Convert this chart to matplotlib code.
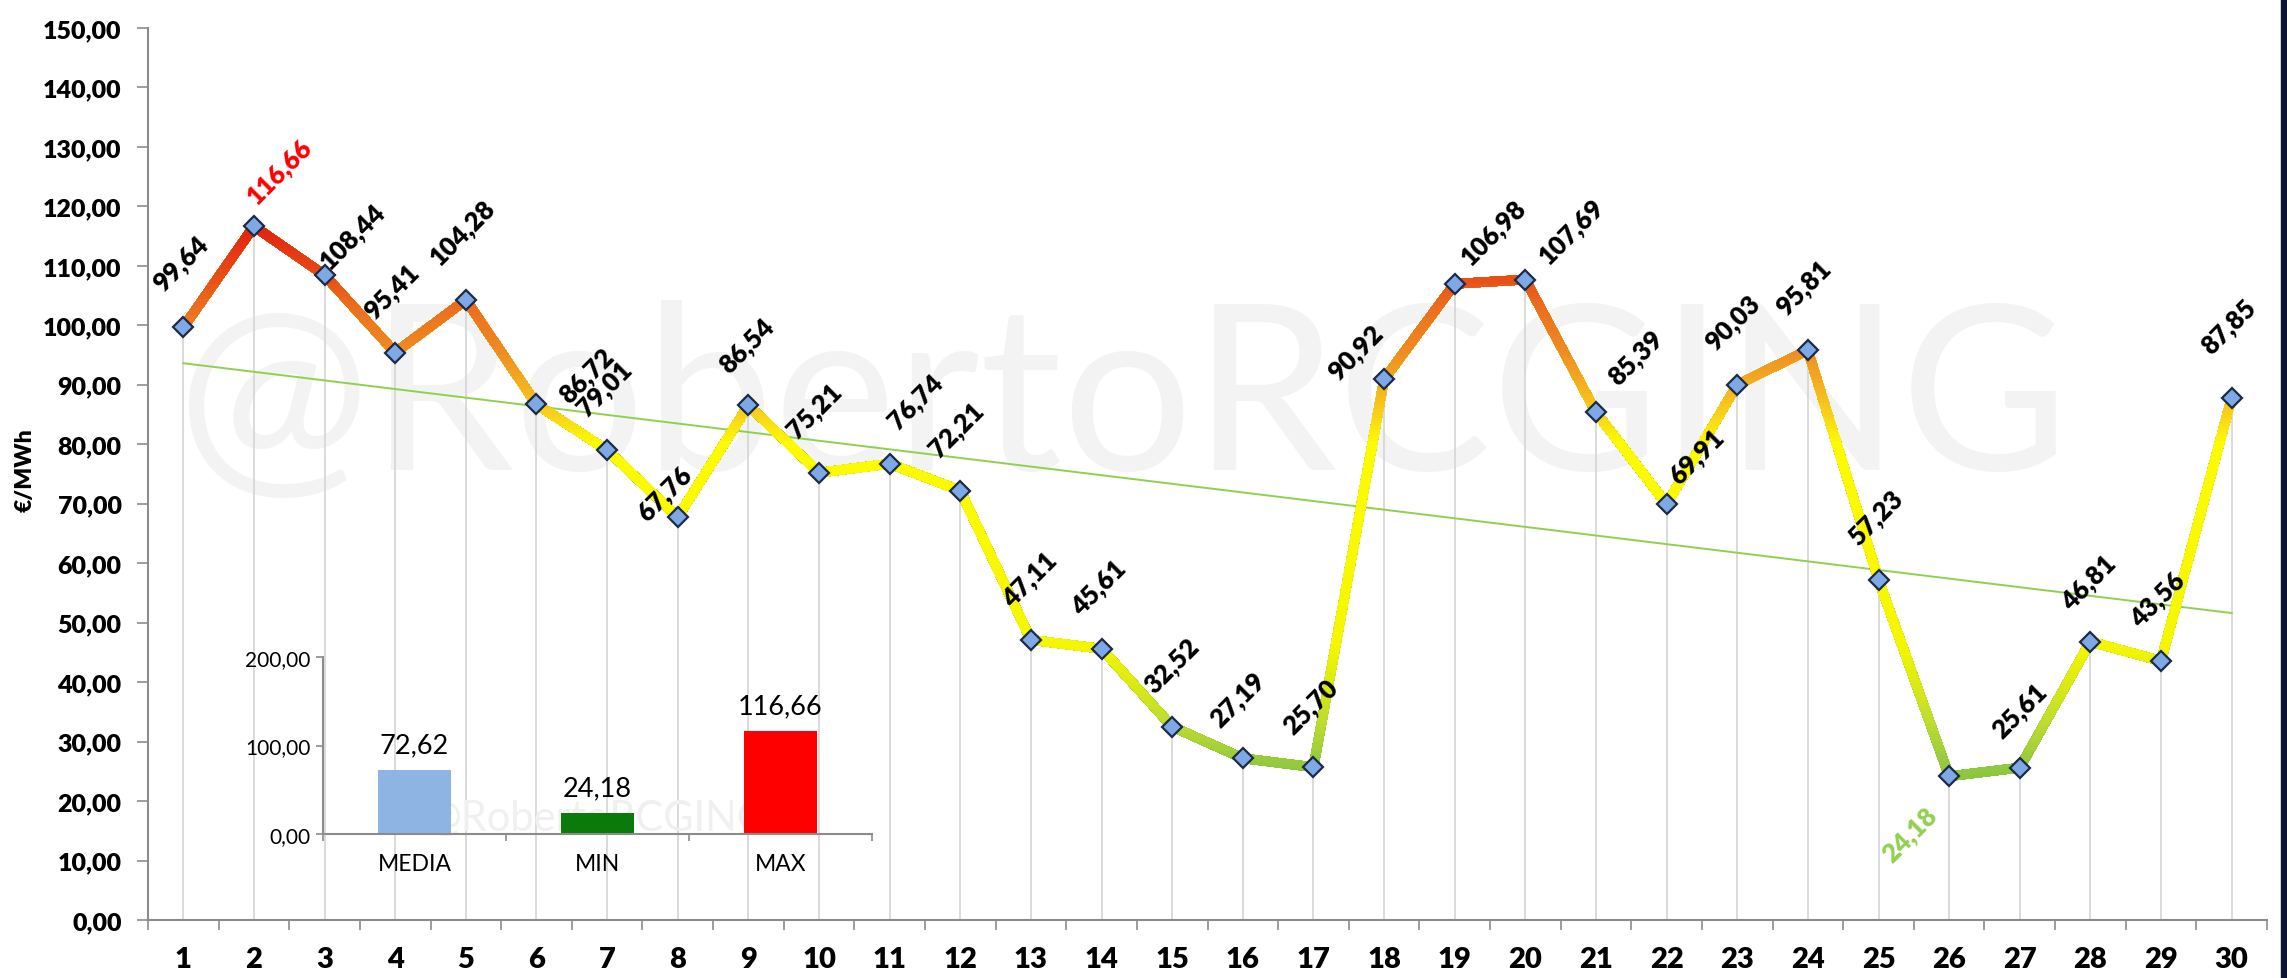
import numpy as np
import matplotlib
matplotlib.use("Agg")
import matplotlib.pyplot as plt
from matplotlib.colors import LinearSegmentedColormap
from matplotlib.patches import Rectangle

# daily price, €/MWh
days = list(range(1, 31))
prices = [99.64, 116.66, 108.44, 95.41, 104.28, 86.72, 79.01, 67.76, 86.54, 75.21,
          76.74, 72.21, 47.11, 45.61, 32.52, 27.19, 25.70, 90.92, 106.98, 107.69,
          85.39, 69.91, 90.03, 95.81, 57.23, 24.18, 25.61, 46.81, 43.56, 87.85]

summary_names = ["MEDIA", "MIN", "MAX"]
summary_values = [72.62, 24.18, 116.66]

y_ticks = list(range(0, 151, 10))
inset_ticks = [0, 100, 200]

# gradient of the line colour by price level
grad_values = [24, 27, 33, 40, 46, 80, 85, 90, 96, 104, 108, 117]
grad_colors = ["#8CC63F", "#98CC3C", "#BEDC30", "#DDEB10", "#F4F700", "#FDFB00",
               "#F8D21A", "#F4B021", "#EF8A22", "#EB6A1E", "#E84F18", "#E3200E"]

# label centre offsets from each point, in pixels (dx, dy up)
label_offsets = [(-2, 64), (26, 55), (28, 39), (-3, 61), (-3, 68), (50, 29), (-2, 62),
                 (-13, 24), (-1, 60), (-4, 62), (26, 62), (-4, 61), (-1, 61), (-3, 62),
                 (0, 61), (-5, 59), (-2, 61), (-28, 27), (39, 52), (46, 49), (40, 55),
                 (30, 48), (-4, 62), (-4, 63), (-3, 62), (-39, -58), (0, 57), (-2, 59),
                 (-3, 62), (-3, 71)]

FONT = ["Lato", "DejaVu Sans"]
W, H = 2287, 979


def fmt(v):
    return f"{v:.2f}".replace(".", ",")


fig = plt.figure(figsize=(W / 100, H / 100), dpi=100)
fig.patch.set_facecolor("white")
fig.patches.append(Rectangle((2281 / W, 0), 1 - 2281 / W, 1, transform=fig.transFigure,
                             color="#0D1530", zorder=0))

ax = fig.add_axes([148 / W, 58 / H, 2119 / W, 892 / H])
ax.patch.set_alpha(0)
ax.set_xlim(0.5, 30.5)
ax.set_ylim(0, 150)

# watermark, behind everything in the plot
ax.text(1123 / W, (H - 470) / H, "@RobertoRCGING", transform=fig.transFigure,
        fontsize=166, family=FONT, weight="normal", color="#F3F3F3", ha="center",
        va="baseline", zorder=0)

# drop lines
ax.vlines(days, 0, prices, color="#D4D4D4", lw=1.2, zorder=1)

# trend line
slope, icpt = np.polyfit(days, prices, 1)
ax.plot([days[0], days[-1]], [slope * days[0] + icpt, slope * days[-1] + icpt],
        color="#8FD14F", lw=1.4, zorder=2)

# gradient line: draw it repeatedly, each copy clipped above a level
lo_v, hi_v = grad_values[0], grad_values[-1]
cmap = LinearSegmentedColormap.from_list(
    "price", [((v - lo_v) / (hi_v - lo_v), c) for v, c in zip(grad_values, grad_colors)])
for lvl in np.arange(0, 130, 0.5):
    frac = min(max((lvl + 0.25 - lo_v) / (hi_v - lo_v), 0), 1)
    ln, = ax.plot(days, prices, color=cmap(frac), lw=6.8, solid_joinstyle="round",
                  solid_capstyle="round", zorder=3)
    ln.set_clip_path(Rectangle((0, lvl), 40, 200, transform=ax.transData))

ax.plot(days, prices, ls="none", marker="D", ms=10, mfc="#7EA8E6", mec="#1C2A44",
        mew=1.6, zorder=4)

# data labels
for d, v, (dx, dy) in zip(days, prices, label_offsets):
    color = "black"
    if v == max(prices):
        color = "#FF0000"
    elif v == min(prices):
        color = "#92D050"
    ax.annotate(fmt(v), (d, v), xytext=(dx * 0.72, dy * 0.72), textcoords="offset points",
                rotation=45, ha="center", va="center", fontsize=18.5, weight="heavy",
                family=FONT, color=color, zorder=5)

ax.set_yticks(y_ticks)
ax.set_yticklabels([fmt(t) for t in y_ticks])
ax.set_xticks(days)
ax.set_xticklabels([str(d) for d in days])
ax.set_xticks(np.arange(0.5, 31, 1), minor=True)
ax.tick_params(axis="x", which="major", length=0, pad=19, labelsize=21)
ax.tick_params(axis="x", which="minor", length=7, width=1.2, color="#8C8C8C", direction="out")
ax.tick_params(axis="y", length=8, width=1.2, color="#8C8C8C", pad=11, labelsize=18)
for lab in ax.get_xticklabels() + ax.get_yticklabels():
    lab.set_family(FONT)
    lab.set_weight("heavy")
for s in ["top", "right"]:
    ax.spines[s].set_visible(False)
for s in ["left", "bottom"]:
    ax.spines[s].set_color("#8C8C8C")
    ax.spines[s].set_linewidth(1.5)

fig.text(25 / W, (H - 470) / H, "€/MWh", rotation=90, ha="center", va="center",
         fontsize=16.5, weight="heavy", family=FONT)

# inset with mean / min / max
ins = fig.add_axes([323 / W, (H - 835) / H, 549 / W, 177 / H])
ins.patch.set_alpha(0)
ins.set_xlim(-0.5, 2.5)
ins.set_ylim(0, 200)
pos = np.arange(len(summary_names))
ins.bar(pos, summary_values, width=0.4, color=["#8DB4E2", "#0A7A0A", "#FF0000"], zorder=2)
for p, v in zip(pos, summary_values):
    ins.annotate(fmt(v), (p, v), xytext=(0, 9), textcoords="offset points", ha="center",
                 va="bottom", fontsize=19.5, family=FONT)
ins.text(1, 5, "@RobertoRCGING", fontsize=30, family=FONT, weight="normal",
         color="#F0F0F0", ha="center", va="baseline", zorder=1)
ins.set_yticks(inset_ticks)
ins.set_yticklabels([fmt(t) for t in inset_ticks])
ins.set_xticks(pos)
ins.set_xticklabels(summary_names)
ins.set_xticks([-0.5, 0.5, 1.5, 2.5], minor=True)
ins.tick_params(axis="x", which="major", length=0, pad=14, labelsize=16.5)
ins.tick_params(axis="x", which="minor", length=5, width=1.2, color="#8C8C8C")
ins.tick_params(axis="y", length=5, width=1.2, color="#8C8C8C", pad=4, labelsize=15)
for lab in ins.get_xticklabels() + ins.get_yticklabels():
    lab.set_family(FONT)
for s in ["top", "right"]:
    ins.spines[s].set_visible(False)
for s in ["left", "bottom"]:
    ins.spines[s].set_color("#8C8C8C")
    ins.spines[s].set_linewidth(1.5)

fig.savefig("out.png", dpi=100, facecolor="white")
